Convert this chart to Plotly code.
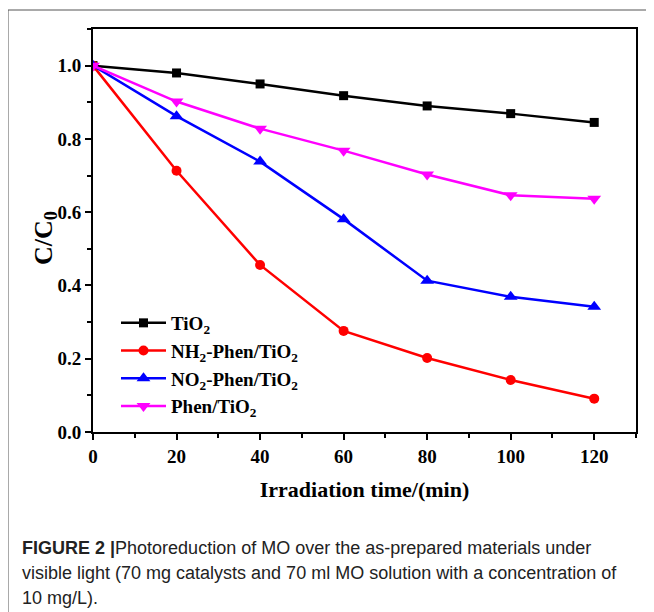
import plotly.graph_objects as go

time_min = [0, 20, 40, 60, 80, 100, 120]
tio2 = [1.0, 0.98, 0.95, 0.918, 0.89, 0.869, 0.845]
nh2_phen = [1.0, 0.713, 0.456, 0.276, 0.202, 0.142, 0.091]
no2_phen = [1.0, 0.862, 0.738, 0.581, 0.413, 0.369, 0.342]
phen = [1.0, 0.902, 0.828, 0.768, 0.703, 0.646, 0.637]

series = [
    ("TiO<sub>2</sub>", tio2, "#000000", "square", 9),
    ("NH<sub>2</sub>-Phen/TiO<sub>2</sub>", nh2_phen, "#ff0000", "circle", 10),
    ("NO<sub>2</sub>-Phen/TiO<sub>2</sub>", no2_phen, "#0000ff", "triangle-up", 12),
    ("Phen/TiO<sub>2</sub>", phen, "#ff00ff", "triangle-down", 12),
]

fig = go.Figure()
for name, ys, col, sym, sz in series:
    fig.add_trace(go.Scatter(
        x=time_min, y=ys, name=name, mode="lines+markers",
        line=dict(color=col, width=2.5),
        marker=dict(symbol=sym, size=sz, color=col),
    ))

serif = "Liberation Serif, Times New Roman, serif"
OFF = 8  # page body margin
W, H = 646, 604
L = 93 - OFF
T = 29 - OFF
R = W - (636 - OFF)
B = H - (432 - OFF)
pw, ph = W - L - R, H - T - B

def px(x):
    return (x - OFF - L) / pw

def py(y):
    return (H - B - (y - OFF)) / ph

axis_common = dict(
    showline=True, linecolor="black", linewidth=2, mirror=True,
    ticks="outside", ticklen=6, tickwidth=2, tickcolor="black",
    showgrid=False, zeroline=False,
    tickfont=dict(family=serif, size=19, color="black", weight="bold"),
)

fig.update_layout(
    width=W, height=H,
    margin=dict(l=L, r=R, t=T, b=B),
    paper_bgcolor="white", plot_bgcolor="white",
    xaxis=dict(range=[0, 130], tickvals=[0, 20, 40, 60, 80, 100, 120],
               minor=dict(dtick=10, tick0=0, ticks="outside", ticklen=4, tickwidth=2, tickcolor="black"),
               title=dict(text="Irradiation time/(min)", standoff=16,
                          font=dict(family=serif, size=22, color="black", weight="bold")),
               **axis_common),
    yaxis=dict(range=[0, 1.1], tickvals=[0, 0.2, 0.4, 0.6, 0.8, 1.0], tickformat=".1f",
               minor=dict(dtick=0.1, tick0=0, ticks="outside", ticklen=4, tickwidth=2, tickcolor="black"),
               **axis_common),
    showlegend=True,
    legend=dict(x=px(116), y=py(304), xanchor="left", yanchor="top",
                bgcolor="rgba(0,0,0,0)", borderwidth=0, itemwidth=45,
                font=dict(family=serif, size=19, color="black", weight="bold"),
                tracegroupgap=0),
)

# y-axis title
fig.add_annotation(text="<b>C/C<sub>0</sub></b>", xref="paper", yref="paper",
                   x=px(45), y=py(238), xanchor="center", yanchor="middle",
                   textangle=-90, showarrow=False,
                   font=dict(family=serif, size=26, color="black"))

# outer figure frame
fig.add_shape(type="rect", xref="paper", yref="paper",
              x0=px(8), y0=py(640), x1=px(680), y1=py(10),
              line=dict(color="#555555", width=1), fillcolor="rgba(0,0,0,0)", layer="below")

cap_font = dict(family="Liberation Sans, Arial, sans-serif", size=18, color="#222222")
caption_lines = [
    "<b>FIGURE 2 </b><b>|</b>Photoreduction of MO over the as-prepared materials under",
    "visible light (70 mg catalysts and 70 ml MO solution with a concentration of",
    "10 mg/L).",
]
for i, line in enumerate(caption_lines):
    fig.add_annotation(text=line, xref="paper", yref="paper",
                       x=px(20), y=py(548 + 25 * i), xanchor="left", yanchor="middle",
                       showarrow=False, font=cap_font, align="left")

fig.write_html("out.html")
